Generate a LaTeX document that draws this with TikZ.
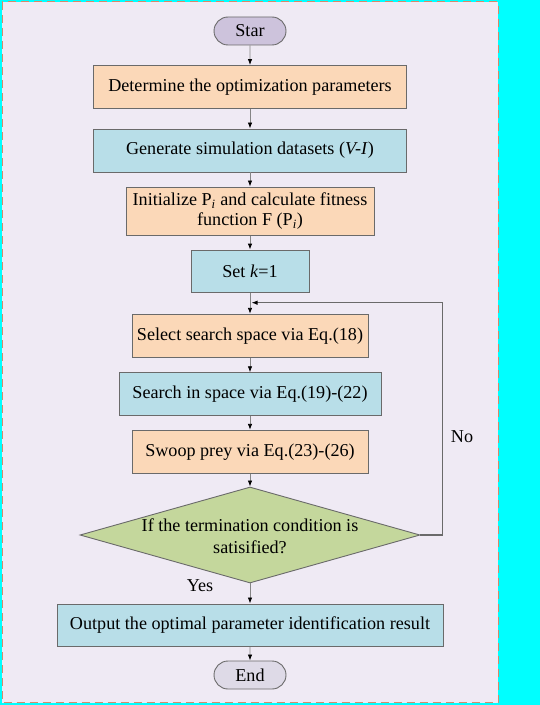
\documentclass[tikz,border=0pt]{standalone}
\usepackage{fontspec}
\setmainfont{Liberation Serif}
\usetikzlibrary{arrows.meta,shapes.geometric,shapes.misc}
\definecolor{bgcyan}{HTML}{00FFFF}
\definecolor{lav}{HTML}{EFEAF4}
\definecolor{dashc}{HTML}{D68A6C}
\definecolor{peach}{HTML}{FBD8B8}
\definecolor{lblue}{HTML}{B8DEE8}
\definecolor{lgreen}{HTML}{C4D79C}
\definecolor{starc}{HTML}{CDC3DC}
\definecolor{endc}{HTML}{DEDAE7}
\definecolor{edge}{HTML}{6A6A6A}
\definecolor{connc}{HTML}{858585}
\tikzset{
  txt/.style={font=\fontsize{18.2}{21}\selectfont, text=black},
  boxbase/.style={txt, rectangle, draw=edge, line width=0.9bp, inner sep=0pt, align=center, minimum height=43bp},
  peachbox/.style={boxbase, fill=peach},
  bluebox/.style={boxbase, fill=lblue},
  term/.style={txt, rounded rectangle, draw=edge, line width=0.9bp, minimum width=72bp, minimum height=28bp, inner sep=0pt},
  decis/.style={diamond, draw=edge, line width=0.9bp, fill=lgreen, minimum width=340bp, minimum height=96bp, inner sep=0pt},
  conn/.style={draw=connc, line width=0.8bp, -{Latex[length=6bp,width=4.5bp,color=black]}},
  loopline/.style={draw=edge, line width=1.1bp},
}
\begin{document}
\begin{tikzpicture}[x=1bp,y=-1bp]
\fill[bgcyan] (0,0) rectangle (540,705);
\useasboundingbox (0,0) rectangle (540,705);
\draw[dashc, fill=lav, line width=1bp, dash pattern=on 8bp off 5bp] (2,2) rectangle (498,702.5);

\node[term, fill=starc] (start) at (250,31) {Star};
\node[peachbox, minimum width=313bp] (det) at (250,87) {Determine the optimization parameters};
\node[bluebox, minimum width=313bp] (gen) at (250,150.5) {Generate simulation datasets (\textit{V-I})};
\node[peachbox, minimum width=248bp, minimum height=48.7bp] (init) at (250,211.3) {Initialize P\textsubscript{\textit{i}} and calculate fitness\\[-1bp] function F (P\textsubscript{\textit{i}})};
\node[bluebox, minimum width=118bp, minimum height=42.3bp] (setk) at (250,271.2) {Set \textit{k}=1};
\coordinate (join) at (250,302.7);
\coordinate (loopc) at (442.5,302.7);
\node[peachbox, minimum width=236bp] (sel) at (250,335.8) {Select search space via Eq.(18)};
\node[bluebox, minimum width=262bp] (srch) at (250,394.2) {Search in space via Eq.(19)-(22)};
\node[peachbox, minimum width=236bp] (swoop) at (250,451.8) {Swoop prey via Eq.(23)-(26)};
\node[decis] (dec) at (250,535) {};
\node[txt, align=center] (dectxt) at (250,536) {If the termination condition is\\[1bp] satisified?};
\node[bluebox, minimum width=386bp, minimum height=42.7bp] (out) at (250,625.3) {Output the optimal parameter identification result};
\node[term, fill=endc] (fin) at (250,675) {End};
\node[txt] (yes) at (200,586) {Yes};
\node[txt] (no) at (462,437) {No};

\draw[conn] (start) -- (det);
\draw[conn] (det) -- (gen);
\draw[conn] (gen) -- (init);
\draw[conn] (init) -- (setk);
\draw[conn] (setk) -- (sel);
\draw[conn] (sel) -- (srch);
\draw[conn] (srch) -- (swoop);
\draw[conn] (swoop) -- (dec);
\draw[conn] (dec) -- (out);
\draw[conn] (out) -- (fin);
\draw[loopline, -{Latex[length=6bp,width=4.5bp,color=black]}] (dec.east) -| (loopc) -- ([xshift=1.5bp]join);
\end{tikzpicture}
\end{document}
